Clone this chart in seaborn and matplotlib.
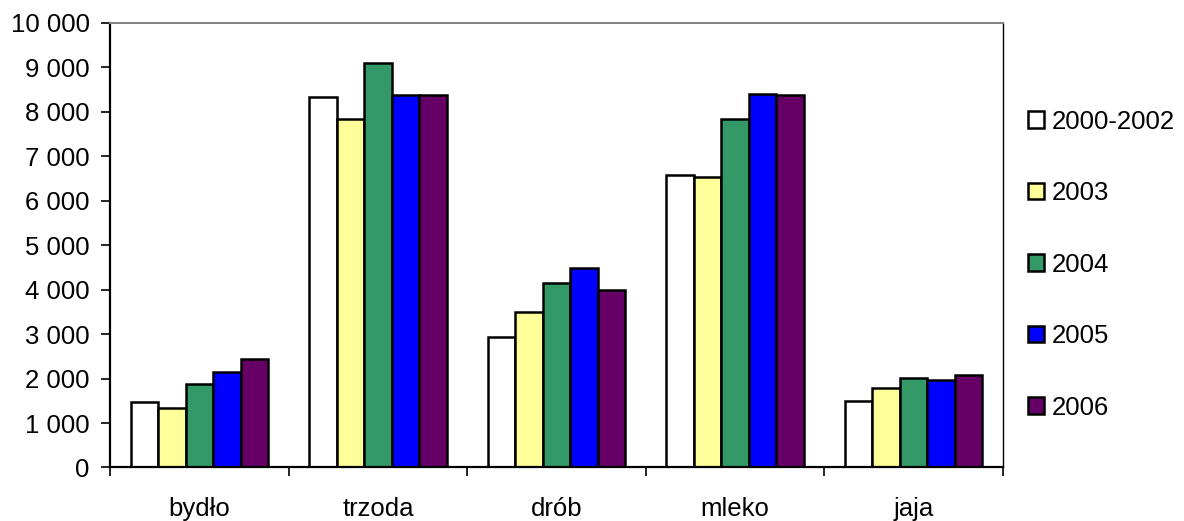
#!/usr/bin/env python3
"""
Grouped bar chart: production value by product and year (bydło, trzoda, drób, mleko, jaja).
"""

import matplotlib

matplotlib.use("Agg")
import matplotlib.pyplot as plt
import pandas as pd
import seaborn as sns
from matplotlib.patches import Patch
from matplotlib.ticker import FixedLocator, FuncFormatter


CATEGORIES = ["bydło", "trzoda", "drób", "mleko", "jaja"]
YEARS = ["2000-2002", "2003", "2004", "2005", "2006"]
COLORS = ["#FFFFFF", "#FFFF99", "#339966", "#0000FF", "#660066"]

# values per year, in category order
V_2000_2002 = [1480, 8330, 2930, 6580, 1500]
V_2003 = [1340, 7850, 3500, 6540, 1790]
V_2004 = [1870, 9090, 4160, 7850, 2010]
V_2005 = [2150, 8380, 4480, 8410, 1970]
V_2006 = [2450, 8380, 3990, 8390, 2080]

Y_TICKS = list(range(0, 10001, 1000))
FONT_SIZE = 18.5


def main() -> None:
    series = [V_2000_2002, V_2003, V_2004, V_2005, V_2006]
    rows = []
    for year, vals in zip(YEARS, series):
        for cat, v in zip(CATEGORIES, vals):
            rows.append({"kategoria": cat, "rok": year, "wartosc": v})
    df = pd.DataFrame(rows)

    sns.set_style("white")
    plt.rcParams["font.family"] = ["Liberation Sans", "DejaVu Sans"]
    plt.rcParams["text.color"] = "black"
    plt.rcParams["xtick.color"] = "black"
    plt.rcParams["ytick.color"] = "black"

    fig = plt.figure(figsize=(11.84, 5.21), dpi=100)
    ax = fig.add_axes([0.0929, 0.1027, 0.8471 - 0.0929, 0.9559 - 0.1027])

    sns.barplot(
        data=df,
        x="kategoria",
        y="wartosc",
        hue="rok",
        order=CATEGORIES,
        hue_order=YEARS,
        palette=COLORS,
        saturation=1,
        width=0.77,
        edgecolor="black",
        linewidth=1.8,
        errorbar=None,
        legend=False,
        ax=ax,
    )

    ax.set_xlim(-0.5, len(CATEGORIES) - 0.5)
    ax.set_ylim(0, 10000)
    ax.set_yticks(Y_TICKS)
    ax.yaxis.set_major_formatter(
        FuncFormatter(lambda v, _: f"{v:,.0f}".replace(",", " "))
    )
    ax.set_xlabel("")
    ax.set_ylabel("")

    # category labels centered, tick marks between categories
    ax.xaxis.set_minor_locator(
        FixedLocator([i - 0.5 for i in range(len(CATEGORIES) + 1)])
    )
    ax.tick_params(axis="x", which="major", length=0, pad=21,
                   labelsize=FONT_SIZE, labelcolor="black")
    ax.tick_params(axis="x", which="minor", direction="out", length=6.5,
                   width=1.2, color="black", bottom=True)
    ax.tick_params(axis="y", direction="out", length=6.5, width=1.2,
                   color="black", left=True, pad=8, labelsize=FONT_SIZE,
                   labelcolor="black")

    for side in ["left", "bottom"]:
        ax.spines[side].set_color("black")
        ax.spines[side].set_linewidth(1.6)
    ax.spines["top"].set_color("#808080")
    ax.spines["top"].set_linewidth(1.4)
    ax.spines["right"].set_color("black")
    ax.spines["right"].set_linewidth(1.0)

    handles = [
        Patch(facecolor=c, edgecolor="black", linewidth=1.8, label=y)
        for c, y in zip(COLORS, YEARS)
    ]
    fig.legend(
        handles=handles,
        loc="center left",
        bbox_to_anchor=(1028 / 1184, 0.492),
        frameon=False,
        fontsize=FONT_SIZE,
        labelcolor="black",
        handlelength=0.62,
        handleheight=0.62,
        handletextpad=0.3,
        labelspacing=1.85,
        borderpad=0,
        borderaxespad=0,
    )

    fig.savefig("out.png", dpi=100)
    plt.close(fig)


if __name__ == "__main__":
    main()
